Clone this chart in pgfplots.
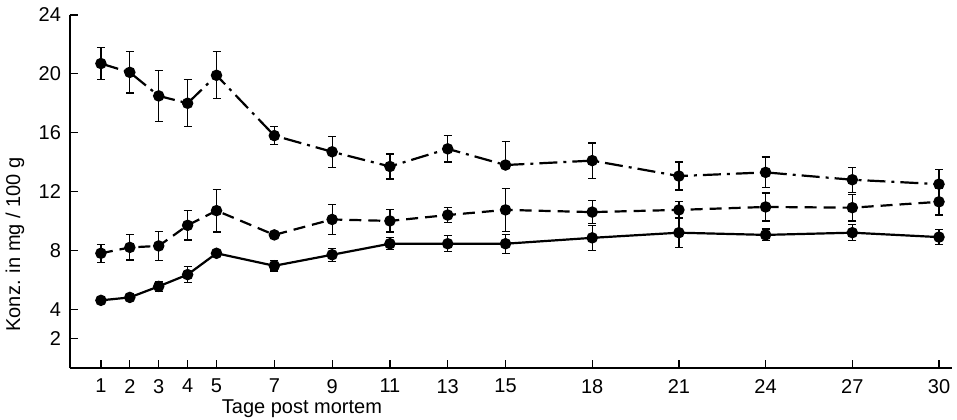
\documentclass[border=0pt]{standalone}
\usepackage{fontspec}
\setmainfont{Liberation Sans}
\usepackage{pgfplots}
\pgfplotsset{compat=1.18}
\begin{document}
\pgfplotstableread{
x  y     ep    em
1  20.7  1.1   1.1
2  20.1  1.4   1.4
3  18.5  1.75  1.75
4  18.0  1.6   1.6
5  19.9  1.6   1.6
7  15.8  0.6   0.6
9  14.7  1.05  1.05
11 13.7  0.85  0.85
13 14.9  0.9   0.9
15 13.8  1.6   0.05
18 14.1  1.2   1.2
21 13.05 0.95  0.95
24 13.3  1.05  1.05
27 12.8  0.85  0.85
30 12.5  1.0   1.0
}\topdata
\pgfplotstableread{
x  y     e
1  7.8   0.6
2  8.2   0.85
3  8.3   1.0
4  9.7   1.0
5  10.7  1.45
7  9.05  0.15
9  10.1  1.0
11 10.0  0.75
13 10.4  0.5
15 10.75 1.45
18 10.6  0.8
21 10.75 0.55
24 10.95 0.95
27 10.9  0.9
30 11.3  0.9
}\middata
\pgfplotstableread{
x  y     e
1  4.6   0.1
2  4.8   0.1
3  5.55  0.35
4  6.35  0.55
5  7.8   0.1
7  6.95  0.35
9  7.7   0.45
11 8.45  0.4
13 8.45  0.55
15 8.45  0.65
18 8.85  0.85
21 9.2   1.0
24 9.05  0.4
27 9.2   0.55
30 8.9   0.5
}\lowdata
\begin{tikzpicture}
\begin{axis}[
    name=ax,
    scale only axis,
    width=441pt,
    height=176.5pt,
    xmin=-0.07, xmax=30.45,
    ymin=0, ymax=24,
    axis x line=bottom,
    axis y line=left,
    axis line style={-, line width=0.9pt},
    xtick={1,2,3,4,5,7,9,11,13,15,18,21,24,27,30},
    ytick={2,4,8,12,16,20,24},
    tick align=inside,
    major tick length=4pt,
    tick style={black, line width=0.6pt},
    tick label style={font=\normalsize},
    xticklabel style={yshift=-2pt},
    yticklabel style={xshift=-1pt},
    /pgf/number format/assume math mode=true,
    clip=false,
    every axis plot/.append style={black, line width=1.1pt, mark=*, mark size=2.3pt,
        mark options={solid, fill=black}},
    error bars/y dir=both,
    error bars/y explicit,
    error bars/error bar style={line width=0.6pt, solid},
    error bars/error mark options={rotate=90, mark size=2pt, line width=0.6pt, solid},
]
\addplot[dash pattern=on 9pt off 3pt on 1.5pt off 3pt] table[x=x, y=y, y error plus=ep, y error minus=em] {\topdata};
\addplot[dash pattern=on 6pt off 3.5pt] table[x=x, y=y, y error=e] {\middata};
\addplot[solid] table[x=x, y=y, y error=e] {\lowdata};
\node[anchor=north, inner sep=0pt] at ([yshift=-15.5pt]rel axis cs:0.263,0) {Tage post mortem};
\node[rotate=90, anchor=center] at ([xshift=-27.5pt]rel axis cs:0,0.35) {Konz. in mg / 100 g};
\end{axis}
\pgfresetboundingbox
\path ([shift={(-35pt,-25.5pt)}]ax.south west) rectangle ([shift={(2.5pt,7.5pt)}]ax.north east);
\end{tikzpicture}
\end{document}
